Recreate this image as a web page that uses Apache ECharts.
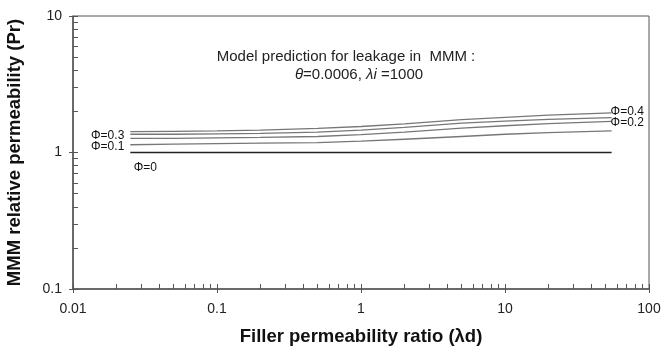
<!DOCTYPE html>
<html>
<head>
<meta charset="utf-8">
<script src="https://cdn.jsdelivr.net/npm/echarts@6/dist/echarts.min.js"></script>
<style>
  html, body { margin: 0; padding: 0; background: #fff; }
  #main { width: 668px; height: 348px; }
</style>
</head>
<body>
<div id="main"></div>
<script>
// data
const lambdaD = [0.025, 0.05, 0.1, 0.2, 0.5, 1, 2, 5, 10, 20, 55];
const pr0  = [1, 1, 1, 1, 1, 1, 1, 1, 1, 1, 1];
const pr01 = [1.14, 1.15, 1.16, 1.17, 1.18, 1.21, 1.25, 1.31, 1.36, 1.40, 1.44];
const pr02 = [1.27, 1.27, 1.28, 1.29, 1.31, 1.35, 1.41, 1.51, 1.57, 1.63, 1.69];
const pr03 = [1.36, 1.36, 1.37, 1.38, 1.41, 1.46, 1.53, 1.64, 1.70, 1.75, 1.80];
const pr04 = [1.42, 1.43, 1.44, 1.46, 1.50, 1.55, 1.62, 1.74, 1.81, 1.88, 1.95];
const xTicks = [0.01, 0.1, 1, 10, 100];
const yTicks = [0.1, 1, 10];

const FONT = 'Liberation Sans, Arial, sans-serif';

function minorTicks(lo, hi) {
  const out = [];
  for (let d = lo; d < hi * 0.999; d *= 10) {
    for (let k = 1; k <= 9; k++) out.push(+(d * k).toPrecision(3));
  }
  out.push(hi);
  return out;
}

// label sits next to one point of the curve
function makeSeries(name, ys, color, width, labelIdx, labelPos, align) {
  const data = lambdaD.map((x, i) => {
    const item = { value: [x, ys[i]] };
    if (i === labelIdx) {
      item.label = {
        show: true,
        position: labelPos,
        align: align,
        verticalAlign: 'middle',
        formatter: name,
        fontFamily: FONT,
        fontSize: 12,
        color: '#111'
      };
    }
    return item;
  });
  return {
    name,
    type: 'line',
    data,
    symbol: 'circle',
    symbolSize: 0,
    showSymbol: true,
    showAllSymbol: true,
    itemStyle: { color },
    lineStyle: { color, width },
    label: { show: false },
    labelLayout: { hideOverlap: false },
    emphasis: { disabled: true },
    silent: true,
    z: 3
  };
}

const chart = echarts.init(document.getElementById('main'), null, { renderer: 'canvas' });

const axisFont = { fontFamily: FONT, fontSize: 14, color: '#222' };
const nameFont = { fontFamily: FONT, fontSize: 18.5, fontWeight: 'bold', color: '#111' };

chart.setOption({
  animation: false,
  backgroundColor: '#fff',
  grid: {
    left: 73, right: 19, top: 16, bottom: 59,
    outerBoundsMode: 'none',
    containLabel: false,
    show: true, borderColor: '#555', borderWidth: 1, backgroundColor: 'transparent'
  },
  xAxis: [
    {
      type: 'log', logBase: 10, min: 0.01, max: 100,
      position: 'bottom',
      name: 'Filler permeability ratio (λd)',
      nameLocation: 'middle', nameGap: 38,
      nameTextStyle: nameFont,
      axisLine: { show: true, lineStyle: { color: '#555', width: 1.5 } },
      axisTick: { show: true, inside: false, length: 4, lineStyle: { color: '#555' }, customValues: xTicks },
      axisLabel: Object.assign({ margin: 13, customValues: xTicks, formatter: v => String(v) }, axisFont),
      splitLine: { show: false }
    },
    {
      type: 'log', logBase: 10, min: 0.01, max: 100,
      position: 'bottom',
      axisLine: { show: false },
      axisTick: { show: true, inside: true, length: 5, lineStyle: { color: '#555' }, customValues: minorTicks(0.01, 100) },
      axisLabel: { show: false },
      splitLine: { show: false }
    }
  ],
  yAxis: [
    {
      type: 'log', logBase: 10, min: 0.1, max: 10,
      position: 'left',
      name: 'MMM relative permeability (Pr)',
      nameLocation: 'middle', nameGap: 49,
      nameTextStyle: nameFont,
      axisLine: { show: true, lineStyle: { color: '#555', width: 1.5 } },
      axisTick: { show: true, inside: false, length: 4, lineStyle: { color: '#555' }, customValues: yTicks },
      axisLabel: Object.assign({ margin: 11, customValues: yTicks, formatter: v => String(v) }, axisFont),
      splitLine: { show: false }
    },
    {
      type: 'log', logBase: 10, min: 0.1, max: 10,
      position: 'left',
      axisLine: { show: false },
      axisTick: { show: true, inside: true, length: 5, lineStyle: { color: '#555' }, customValues: minorTicks(0.1, 10) },
      axisLabel: { show: false },
      splitLine: { show: false }
    }
  ],
  graphic: [
    {
      type: 'text',
      x: 346, y: 57,
      style: {
        text: 'Model prediction for leakage in  MMM :',
        fontFamily: FONT,
        fontSize: 15,
        fill: '#222',
        align: 'center',
        verticalAlign: 'middle'
      }
    },
    {
      type: 'text',
      x: 359, y: 75,
      style: {
        text: '{i|θ}=0.0006, {i|λi} =1000',
        fontFamily: FONT,
        fontSize: 15,
        fill: '#222',
        align: 'center',
        verticalAlign: 'middle',
        rich: {
          i: { fontStyle: 'italic', fontFamily: FONT, fontSize: 15, fill: '#222' }
        }
      }
    }
  ],
  series: [
    makeSeries('Φ=0', pr0, '#222', 1.6, 0, [15, 15], 'center'),
    makeSeries('Φ=0.1', pr01, '#777', 1.3, 0, [-6, 2], 'right'),
    makeSeries('Φ=0.2', pr02, '#777', 1.3, lambdaD.length - 1, [-1, 1], 'left'),
    makeSeries('Φ=0.3', pr03, '#777', 1.3, 0, [-6, 1], 'right'),
    makeSeries('Φ=0.4', pr04, '#777', 1.3, lambdaD.length - 1, [-1, -1], 'left')
  ]
});
</script>
</body>
</html>
